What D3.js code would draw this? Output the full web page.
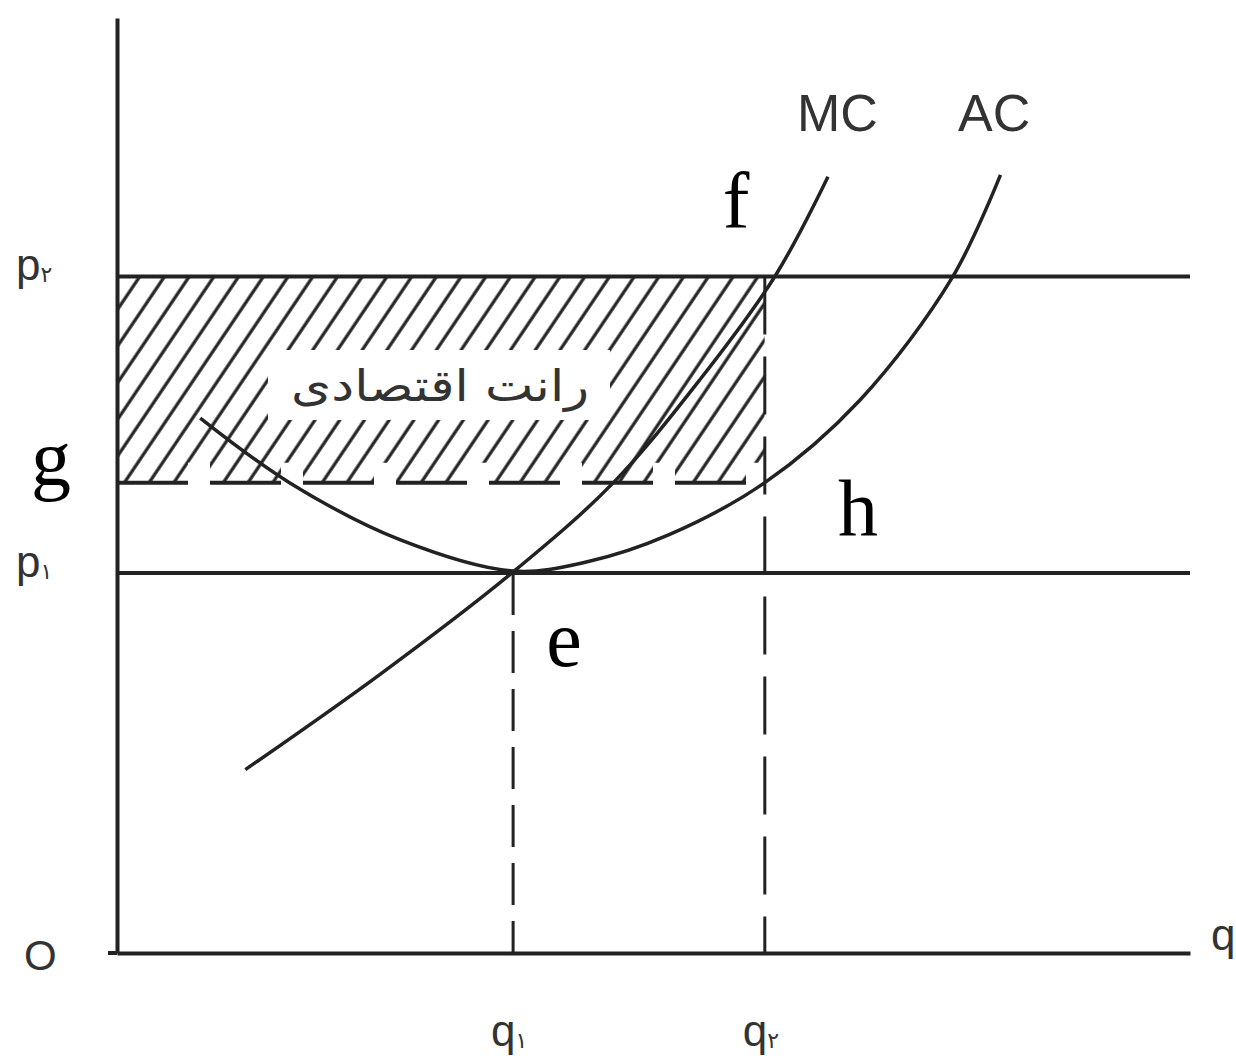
<!DOCTYPE html>
<html>
<head>
<meta charset="utf-8">
<script src="https://cdn.jsdelivr.net/npm/d3@7"></script>
<style>
  body { margin: 0; background: #fff; }
  svg { display: block; }
</style>
</head>
<body>
<div id="chart"></div>
<script>
// Marginal cost curve (q, p)
const mcQ = [1.28, 2.62, 3.95, 4.95, 5.81, 6.56, 7.09];
const mcP = [1.93, 2.93, 4.01, 4.95, 6.03, 7.12, 8.17];

// Average cost curve (q, p)
const acQ = [0.83, 1.72, 2.82, 3.95, 4.7, 5.5, 6.46, 7.41, 8.33, 8.81];
const acP = [5.63, 4.95, 4.35, 4.02, 4.12, 4.4, 4.95, 5.82, 7.11, 8.19];

// Price levels p1, p2 and quantities q1, q2
const priceValues = [4.0, 7.12];
const priceDigits = ["۱", "۲"];
const quantityValues = [3.95, 6.46];
const quantityDigits = ["۱", "۲"];

// Level of the points g and h (bottom of the rent area)
const rentFloor = 4.95;
const rentLabel = "رانت اقتصادی";

function drawChart(containerId) {
    const width = 1236;
    const height = 1060;
    const ink = "#222";

    const svg = d3.select(containerId)
        .append("svg")
        .attr("width", width)
        .attr("height", height);

    const x = d3.scaleLinear().domain([0, 10.7]).range([117, 1190]);
    const y = d3.scaleLinear().domain([0, 9.84]).range([953, 18]);

    const defs = svg.append("defs");

    // Diagonal hatch pattern for the rent rectangle
    const pat = defs.append("pattern")
        .attr("id", "hatch")
        .attr("patternUnits", "userSpaceOnUse")
        .attr("width", 20.5)
        .attr("height", 20.5)
        .attr("patternTransform", "rotate(34)");
    pat.append("line")
        .attr("x1", 4).attr("y1", -2)
        .attr("x2", 4).attr("y2", 23)
        .attr("stroke", ink)
        .attr("stroke-width", 3.2);

    // Clip: full rect above the bottom band, and only the dash pieces inside the band
    const left = x(0), right = x(quantityValues[1]);
    const top = y(priceValues[1]), bottom = y(rentFloor);
    const band = 20;
    const clip = defs.append("clipPath").attr("id", "hatchClip");
    clip.append("rect")
        .attr("x", left).attr("y", top)
        .attr("width", right - left).attr("height", bottom - top - band);
    d3.range(left, right, 93).forEach(d => {
        clip.append("rect")
            .attr("x", d).attr("y", bottom - band)
            .attr("width", Math.min(71, right - d)).attr("height", band + 2);
    });

    svg.append("rect")
        .attr("x", left).attr("y", top)
        .attr("width", right - left).attr("height", bottom - top)
        .attr("fill", "url(#hatch)")
        .attr("clip-path", "url(#hatchClip)");

    // White box behind the label
    svg.append("rect")
        .attr("x", 268).attr("y", 350)
        .attr("width", 342).attr("height", 70)
        .attr("fill", "#fff");

    svg.append("text")
        .attr("x", 440)
        .attr("y", 401)
        .attr("text-anchor", "middle")
        .attr("font-family", "DejaVu Sans")
        .attr("font-size", 44)
        .attr("textLength", 298)
        .attr("lengthAdjust", "spacingAndGlyphs")
        .attr("fill", "#333")
        .text(rentLabel);

    // Dashed bottom edge of the rent area (g .. h)
    svg.append("line")
        .attr("x1", left).attr("x2", right)
        .attr("y1", bottom).attr("y2", bottom)
        .attr("stroke", ink)
        .attr("stroke-width", 4)
        .attr("stroke-dasharray", "71,22");

    // Axes (domain lines only, no ticks)
    svg.append("g")
        .attr("transform", `translate(0, ${y(0)})`)
        .call(d3.axisBottom(x).tickValues([]).tickSizeOuter(0))
        .call(g => g.select(".domain").attr("stroke", ink).attr("stroke-width", 4));

    // small stub of the q axis left of the origin
    svg.append("line")
        .attr("x1", 108).attr("x2", x(0))
        .attr("y1", y(0)).attr("y2", y(0))
        .attr("stroke", ink).attr("stroke-width", 4);

    svg.append("g")
        .attr("transform", `translate(${x(0)}, 0)`)
        .call(d3.axisLeft(y).tickValues([]).tickSizeOuter(0))
        .call(g => g.select(".domain").attr("stroke", ink).attr("stroke-width", 4));

    // Horizontal price lines p1, p2
    svg.selectAll(".price-line")
        .data(priceValues)
        .enter().append("line")
        .attr("class", "price-line")
        .attr("x1", x(0)).attr("x2", x(10.7))
        .attr("y1", d => y(d)).attr("y2", d => y(d))
        .attr("stroke", ink)
        .attr("stroke-width", 4);

    // Vertical dashed lines at q1 (from p1) and q2 (from p2)
    svg.selectAll(".q-line")
        .data(quantityValues)
        .enter().append("line")
        .attr("class", "q-line")
        .attr("x1", d => x(d)).attr("x2", d => x(d))
        .attr("y1", (d, i) => y(priceValues[i]))
        .attr("y2", y(0))
        .attr("stroke", ink)
        .attr("stroke-width", 3)
        .attr("stroke-dasharray", (d, i) => i === 0 ? "42,16" : "58,22");

    // Cost curves
    const curve = d3.line()
        .x(d => x(d[0]))
        .y(d => y(d[1]))
        .curve(d3.curveCatmullRom.alpha(0.5));

    svg.append("path")
        .datum(d3.zip(mcQ, mcP))
        .attr("d", curve)
        .attr("fill", "none")
        .attr("stroke", ink)
        .attr("stroke-width", 3.5);

    svg.append("path")
        .datum(d3.zip(acQ, acP))
        .attr("d", curve)
        .attr("fill", "none")
        .attr("stroke", ink)
        .attr("stroke-width", 3.5);

    // Curve names
    const sans = "Liberation Sans";
    svg.append("text")
        .attr("x", 797).attr("y", 131)
        .attr("font-family", sans).attr("font-size", 52)
        .attr("fill", "#333")
        .text("MC");
    svg.append("text")
        .attr("x", 958).attr("y", 131)
        .attr("font-family", sans).attr("font-size", 52)
        .attr("fill", "#333")
        .text("AC");

    // Point letters (serif)
    const serif = "Liberation Serif";
    const letters = [
        { t: "f", px: 736, py: 228 },
        { t: "g", px: 51, py: 485 },
        { t: "h", px: 858, py: 535 },
        { t: "e", px: 564, py: 666 }
    ];
    svg.selectAll(".pt-label")
        .data(letters)
        .enter().append("text")
        .attr("class", "pt-label")
        .attr("x", d => d.px).attr("y", d => d.py)
        .attr("text-anchor", "middle")
        .attr("font-family", serif).attr("font-size", 80)
        .attr("fill", "#000")
        .text(d => d.t);

    // Price labels p1, p2
    priceValues.forEach((v, i) => {
        const t = svg.append("text")
            .attr("x", 16).attr("y", y(v) + 4)
            .attr("font-family", sans).attr("font-size", 44)
            .attr("fill", "#333");
        t.append("tspan").text("p");
        t.append("tspan")
            .attr("font-family", "DejaVu Sans").attr("font-size", 22)
            .attr("dy", 2)
            .text(priceDigits[i]);
    });

    // Quantity labels q1, q2
    quantityValues.forEach((v, i) => {
        const t = svg.append("text")
            .attr("x", x(v) - 22).attr("y", 1046)
            .attr("font-family", sans).attr("font-size", 44)
            .attr("fill", "#333");
        t.append("tspan").text("q");
        t.append("tspan")
            .attr("font-family", "DejaVu Sans").attr("font-size", 22)
            .attr("dy", 2)
            .text(quantityDigits[i]);
    });

    // Origin and axis name
    svg.append("text")
        .attr("x", 24).attr("y", 970)
        .attr("font-family", sans).attr("font-size", 42)
        .attr("fill", "#333")
        .text("O");
    svg.append("text")
        .attr("x", 1211).attr("y", 950)
        .attr("font-family", sans).attr("font-size", 44)
        .attr("fill", "#333")
        .text("q");
}

drawChart("#chart");
</script>
</body>
</html>
